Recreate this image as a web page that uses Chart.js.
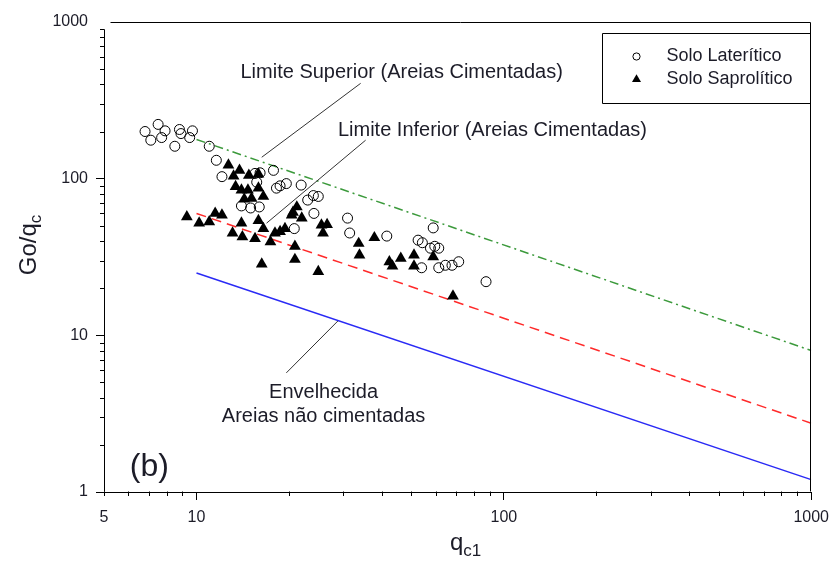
<!DOCTYPE html>
<html>
<head>
<meta charset="utf-8">
<script src="https://cdn.jsdelivr.net/npm/chart.js@4.4.1/dist/chart.umd.min.js"></script>
<style>
  html, body { margin: 0; padding: 0; background: #fff; }
  #wrap { width: 837px; height: 570px; position: relative; }
</style>
</head>
<body>
<div id="wrap"><canvas id="c" width="837" height="570"></canvas></div>
<script>
// Solo Laterítico (open circles): qc1 and Go/qc
const lateriticoQc1 = [6.8, 7.1, 7.5, 7.7, 7.9, 8.5, 8.8, 8.9, 9.5, 9.7, 11, 11.6, 12.1, 14, 15, 15.5, 15.7, 16.1, 16, 17.8, 18.2, 18.7, 19.6, 21.9, 23, 24, 24.9, 24.1, 31, 31.5, 41.6, 52.6, 54.3, 57.7, 58.9, 59.6, 61.4, 54, 61.4, 64.5, 67.8, 71.3, 87.5, 20.8];
const lateriticoGoQc = [200, 176, 222, 183, 202, 161, 206, 194, 183, 202, 161, 131, 103, 67, 65, 108, 95, 109, 66, 113, 87, 90, 93, 91, 73, 78, 77, 60, 56, 45, 43, 40.5, 39, 36, 48.5, 37, 36, 27, 27, 28, 28, 29.5, 22, 48];

// Solo Saprolítico (filled triangles): qc1 and Go/qc
const saproliticoQc1 = [12.7, 13.8, 13.2, 14.8, 15.9, 13.4, 14, 14.7, 14.3, 15.1, 15.9, 16.5, 9.3, 10.2, 11, 11.5, 12.1, 13.1, 14, 14.1, 15.5, 15.9, 16.5, 17.4, 18, 18.7, 19.4, 20.6, 21.2, 20.4, 22, 20.9, 20.9, 16.3, 24.9, 25.5, 26.6, 25.8, 33.7, 33.9, 37.9, 42.4, 43.4, 46.2, 51, 51, 58.9, 68.3];
const saproliticoGoQc = [122, 113, 104, 105, 107, 89, 84.5, 84.5, 74, 75, 87, 77, 57, 52, 53, 60, 58.5, 45, 52, 42.5, 41.5, 54, 48, 39.5, 45, 46, 48, 61, 66, 58.5, 56, 37, 30.5, 28.5, 25.5, 50.5, 51, 45, 38.6, 32.5, 42, 29.5, 27.7, 31, 32.5, 27.7, 31.7, 17.8];

// Reference lines, given by their end points
const limiteQc1 = [10, 1000];
const limiteSuperior = [178, 8];      // Areias cimentadas, upper bound
const limiteInferior = [60, 2.75];    // Areias cimentadas, lower bound
const envelhecida = [25, 1.2];        // aged, uncemented sands

// Tick labels
const xTicks = [5, 10, 100, 1000];
const yTicks = [1, 10, 100, 1000];

const FONT = "'Liberation Sans', Arial, sans-serif";
const TEXT = '#1c1c28';

const pairs = (xs, ys) => xs.map((x, i) => ({ x: x, y: ys[i] }));

// Callout texts and their leader lines, anchored in data coordinates
const notes = [
  { text: 'Limite Superior (Areias Cimentadas)', x: 13.9, y: 477, align: 'left', size: 20 },
  { text: 'Limite Inferior (Areias Cimentadas)', x: 28.85, y: 204, align: 'left', size: 20 },
  { text: 'Envelhecida', x: 25.9, y: 4.29, align: 'center', size: 20 },
  { text: 'Areias não cimentadas', x: 25.9, y: 3.02, align: 'center', size: 20 },
  { text: '(b)', x: 7.02, y: 1.43, align: 'center', size: 32 }
];
const leaders = [
  [[34.2, 406], [16.3, 137]],
  [[35.5, 176], [16.9, 52]],
  [[19.6, 5.76], [28.85, 12.36]]
];

const decorations = {
  id: 'decorations',
  afterDatasetsDraw(chart) {
    const ctx = chart.ctx, xs = chart.scales.x, ys = chart.scales.y;
    ctx.save();
    ctx.strokeStyle = '#333';
    ctx.lineWidth = 1;
    leaders.forEach(([a, b]) => {
      ctx.beginPath();
      ctx.moveTo(xs.getPixelForValue(a[0]), ys.getPixelForValue(a[1]));
      ctx.lineTo(xs.getPixelForValue(b[0]), ys.getPixelForValue(b[1]));
      ctx.stroke();
    });
    ctx.fillStyle = TEXT;
    ctx.textBaseline = 'middle';
    notes.forEach(n => {
      ctx.font = n.size + 'px ' + FONT;
      ctx.textAlign = n.align;
      ctx.fillText(n.text, xs.getPixelForValue(n.x), ys.getPixelForValue(n.y));
    });
    ctx.restore();
  },
  afterDraw(chart) {
    const ctx = chart.ctx, a = chart.chartArea, xs = chart.scales.x, ys = chart.scales.y;
    ctx.save();
    ctx.strokeStyle = '#000';
    ctx.lineWidth = 1;
    const L = Math.round(a.left) + 0.5, R = Math.round(a.right) - 0.5;
    const T = Math.round(a.top) + 0.5, B = Math.round(a.bottom) - 0.5;
    // frame: top, right, and the left axis line
    ctx.beginPath();
    ctx.moveTo(L + 6, T); ctx.lineTo(R, T); ctx.lineTo(R, B);
    ctx.moveTo(L, Math.round(ys.getPixelForValue(900)) + 0.5); ctx.lineTo(L, B);
    ctx.stroke();
    // minor ticks
    ctx.beginPath();
    for (const d of [1, 10, 100]) {
      for (let m = 2; m <= 9; m++) {
        const v = m * d;
        const py = Math.round(ys.getPixelForValue(v)) + 0.5;
        ctx.moveTo(L - 4.5, py); ctx.lineTo(L, py);
        if (v >= 5) {
          const px = Math.round(xs.getPixelForValue(v)) + 0.5;
          ctx.moveTo(px, B); ctx.lineTo(px, B + 4.5);
        }
      }
    }
    ctx.moveTo(L, B); ctx.lineTo(L, B + 4.5);
    ctx.stroke();

    // legend box
    const bx = R - 208, by = Math.round(a.top + 10.5) + 0.5, bh = 70;
    ctx.beginPath();
    ctx.rect(bx, by, R - bx, bh);
    ctx.stroke();
    const rows = [
      { ds: chart.data.datasets[0], style: 'circle', r: 3.6, y: by + 23 },
      { ds: chart.data.datasets[1], style: 'triangle', r: 5.2, y: by + 46 }
    ];
    ctx.font = '18px ' + FONT;
    ctx.textAlign = 'left';
    ctx.textBaseline = 'middle';
    rows.forEach(row => {
      ctx.fillStyle = row.ds.backgroundColor;
      ctx.strokeStyle = '#000';
      ctx.lineWidth = row.ds.borderWidth;
      Chart.helpers.drawPoint(ctx, { pointStyle: row.style, radius: row.r, borderWidth: row.ds.borderWidth, rotation: 0 }, bx + 34, row.y);
      ctx.fillStyle = TEXT;
      ctx.fillText(row.ds.label, bx + 64, row.y);
    });

    // axis titles
    ctx.fillStyle = TEXT;
    ctx.textBaseline = 'alphabetic';
    // x: q with subscript c1
    ctx.font = '24px ' + FONT;
    const q = 'q', w1 = ctx.measureText(q).width;
    ctx.font = '17px ' + FONT;
    const w2 = ctx.measureText('c1').width;
    const cx = (a.left + a.right) / 2 + 8, base = 550;
    let x0 = cx - (w1 + w2) / 2;
    ctx.font = '24px ' + FONT;
    ctx.fillText(q, x0, base);
    ctx.font = '17px ' + FONT;
    ctx.fillText('c1', x0 + w1, base + 6);
    // y: Go/q with subscript c, rotated
    ctx.translate(36, 245);
    ctx.rotate(-Math.PI / 2);
    ctx.font = '24px ' + FONT;
    const g = 'Go/q', wg = ctx.measureText(g).width;
    ctx.font = '17px ' + FONT;
    const wc = ctx.measureText('c').width;
    x0 = -(wg + wc) / 2;
    ctx.font = '24px ' + FONT;
    ctx.fillText(g, x0, 0);
    ctx.font = '17px ' + FONT;
    ctx.fillText('c', x0 + wg, 5);
    ctx.restore();
  }
};

new Chart(document.getElementById('c'), {
  type: 'scatter',
  data: {
    datasets: [
      { label: 'Solo Laterítico', data: pairs(lateriticoQc1, lateriticoGoQc), pointStyle: 'circle', pointRadius: 5,
        borderColor: '#000', borderWidth: 1, backgroundColor: 'rgba(0,0,0,0)', order: 1 },
      { label: 'Solo Saprolítico', data: pairs(saproliticoQc1, saproliticoGoQc), pointStyle: 'triangle', pointRadius: 6.8,
        borderColor: '#000', borderWidth: 0, backgroundColor: '#000', order: 2 },
      { label: 'Limite Superior', type: 'line', data: pairs(limiteQc1, limiteSuperior), borderColor: '#3c9a3c',
        borderWidth: 1.5, borderDash: [9, 4, 2, 4], pointRadius: 0, fill: false, order: 3 },
      { label: 'Limite Inferior', type: 'line', data: pairs(limiteQc1, limiteInferior), borderColor: '#ff2a2a',
        borderWidth: 1.5, borderDash: [10, 6], pointRadius: 0, fill: false, order: 3 },
      { label: 'Envelhecida', type: 'line', data: pairs(limiteQc1, envelhecida), borderColor: '#2a2af5',
        borderWidth: 1.5, pointRadius: 0, fill: false, order: 3 }
    ]
  },
  options: {
    responsive: false,
    animation: false,
    devicePixelRatio: 1,
    layout: { padding: { top: 22, right: 20, left: 0, bottom: 0 } },
    plugins: { legend: { display: false }, tooltip: { enabled: false } },
    scales: {
      x: {
        type: 'logarithmic', min: 5, max: 1000,
        afterBuildTicks: s => { s.ticks = xTicks.map(v => ({ value: v })); },
        afterFit: s => { s.height = 78; },
        grid: { drawOnChartArea: false, tickLength: 8,
                tickColor: c => (c.tick && c.tick.value === 5) ? 'rgba(0,0,0,0)' : '#000' },
        border: { color: '#000', width: 1 },
        ticks: { font: { family: FONT, size: 16 }, color: TEXT, padding: 8, autoSkip: false, maxRotation: 0,
                 callback: v => String(v) }
      },
      y: {
        type: 'logarithmic', min: 1, max: 1000,
        afterBuildTicks: s => { s.ticks = yTicks.map(v => ({ value: v })); },
        afterFit: s => { s.width = 104; },
        grid: { drawOnChartArea: false, tickLength: 8,
                tickColor: c => (c.tick && c.tick.value === 1000) ? 'rgba(0,0,0,0)' : '#000' },
        border: { display: false },
        ticks: { font: { family: FONT, size: 16 }, color: TEXT, padding: 8, autoSkip: false,
                 callback: v => String(v) }
      }
    }
  },
  plugins: [decorations]
});
</script>
</body>
</html>
